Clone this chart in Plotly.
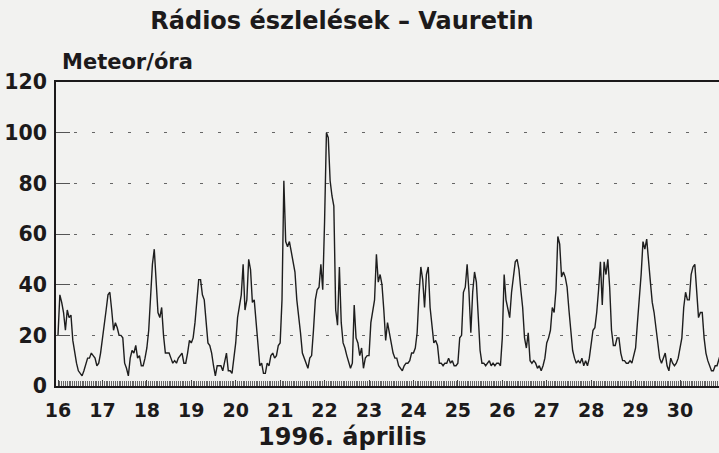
import plotly.graph_objects as go

# Hourly radio meteor counts, 1996 April 16-30
day16 = [20, 36, 33, 29, 22, 30, 27, 28, 18, 13, 9, 6, 5, 4, 6, 9, 11, 11, 13, 12, 11, 8, 9, 13]
day17 = [18, 25, 30, 36, 37, 30, 22, 25, 23, 20, 20, 19, 9, 7, 4, 11, 14, 13, 16, 11, 12, 8, 8, 11]
day18 = [15, 22, 37, 48, 54, 40, 29, 27, 31, 20, 13, 13, 13, 11, 9, 10, 9, 11, 12, 13, 9, 9, 13, 18]
day19 = [17, 19, 25, 34, 42, 42, 36, 34, 25, 17, 16, 13, 8, 4, 8, 8, 8, 6, 10, 13, 6, 6, 5, 10]
day20 = [17, 27, 31, 36, 48, 30, 34, 50, 46, 33, 34, 25, 15, 8, 9, 5, 5, 9, 8, 12, 13, 11, 12, 16]
day21 = [17, 34, 81, 57, 55, 57, 53, 48, 45, 34, 28, 21, 13, 11, 9, 7, 11, 12, 22, 34, 38, 39, 48, 38]
day22 = [65, 100, 98, 81, 75, 71, 30, 24, 47, 25, 17, 15, 12, 9, 7, 9, 32, 19, 17, 12, 15, 7, 11, 12]
day23 = [12, 25, 29, 34, 52, 41, 44, 40, 30, 18, 25, 21, 17, 13, 11, 11, 8, 7, 6, 8, 9, 9, 10, 13]
day24 = [13, 15, 21, 36, 47, 42, 31, 44, 47, 31, 23, 17, 18, 16, 9, 9, 8, 9, 9, 11, 9, 10, 8, 8]
day25 = [9, 19, 20, 37, 39, 48, 37, 21, 37, 45, 41, 25, 14, 9, 9, 8, 9, 10, 8, 9, 8, 9, 9, 8]
day26 = [19, 44, 34, 30, 27, 37, 43, 49, 50, 46, 38, 31, 19, 15, 21, 10, 9, 10, 9, 7, 8, 6, 8, 11]
day27 = [17, 19, 22, 31, 29, 38, 59, 56, 43, 45, 43, 39, 30, 21, 14, 11, 9, 10, 9, 11, 8, 10, 8, 11]
day28 = [16, 22, 23, 29, 38, 49, 32, 49, 44, 50, 39, 22, 16, 16, 19, 19, 13, 10, 10, 9, 9, 10, 9, 12]
day29 = [15, 25, 34, 44, 57, 54, 58, 48, 41, 33, 29, 23, 18, 11, 9, 11, 13, 8, 6, 11, 9, 8, 9, 11]
day30 = [15, 19, 31, 37, 34, 34, 44, 47, 48, 37, 27, 29, 29, 19, 13, 10, 8, 6, 6, 8, 8, 11, 13, 15]

days = [16, 17, 18, 19, 20, 21, 22, 23, 24, 25, 26, 27, 28, 29, 30]
day_labels = [str(d) for d in days]
y_ticks = [0, 20, 40, 60, 80, 100, 120]

counts = (day16 + day17 + day18 + day19 + day20 + day21 + day22 + day23 +
          day24 + day25 + day26 + day27 + day28 + day29 + day30)
time_days = [16 + h / 24 for h in range(len(counts))]

INK = "#1c1a1b"
PAPER = "#f2f2f0"
FONT = "DejaVu Sans"

fig = go.Figure()
fig.add_trace(go.Scatter(
    x=time_days, y=counts, mode="lines",
    line=dict(color="#1e1e1e", width=1.4),
    hoverinfo="skip", showlegend=False,
))

fig.update_layout(
    width=719, height=453,
    margin=dict(l=56, r=0, t=82, b=67, autoexpand=False),
    paper_bgcolor=PAPER, plot_bgcolor=PAPER,
    font=dict(family=FONT, color=INK),
    title=dict(
        text="<b>Rádios észlelések – Vauretin</b>",
        x=342 / 719, xanchor="center", xref="container",
        y=1 - 21 / 453, yanchor="middle", yref="container",
        font=dict(size=24, family=FONT, color=INK),
    ),
    annotations=[
        dict(text="<b>Meteor/óra</b>", xref="paper", yref="paper",
             x=(60 - 56) / 663, y=1 + (82 - 62) / 304, xanchor="left", yanchor="middle",
             showarrow=False, font=dict(size=21, family=FONT, color=INK)),
        dict(text="<b>1996. április</b>", xref="paper", yref="paper",
             x=(342 - 56) / 663, y=-(437 - 386) / 304, xanchor="center", yanchor="middle",
             showarrow=False, font=dict(size=24, family=FONT, color=INK)),
    ],
)

fig.update_xaxes(
    range=[16 - 2 / 44.43, 16 + (719 - 58) / 44.43],
    tickvals=days, ticktext=[f"<b>{t}</b>" for t in day_labels],
    tickfont=dict(size=19, family=FONT, color=INK),
    ticks="inside", ticklen=6, tickcolor="#444", tickwidth=1,
    ticklabelstandoff=6,
    minor=dict(dtick=1 / 24, tick0=16, ticks="inside", ticklen=5, tickcolor="#666", tickwidth=1, showgrid=False),
    showline=True, linecolor=INK, linewidth=1.6, mirror=True,
    showgrid=False, zeroline=False, fixedrange=True, automargin=False,
)
fig.update_yaxes(
    range=[0, 120],
    tickvals=y_ticks, ticktext=[f"<b>{t}</b>" for t in y_ticks],
    tickfont=dict(size=20.5, family=FONT, color=INK),
    ticks="inside", ticklen=14, tickcolor="#555", tickwidth=1,
    ticklabelstandoff=3,
    showline=True, linecolor=INK, linewidth=1.6,
    showgrid=True, gridcolor="#666", gridwidth=1, griddash="3px,15px",
    zeroline=False, fixedrange=True, automargin=False,
)

fig.write_html("out.html", config={"displayModeBar": False},
               post_script="document.body.style.margin='0';")
